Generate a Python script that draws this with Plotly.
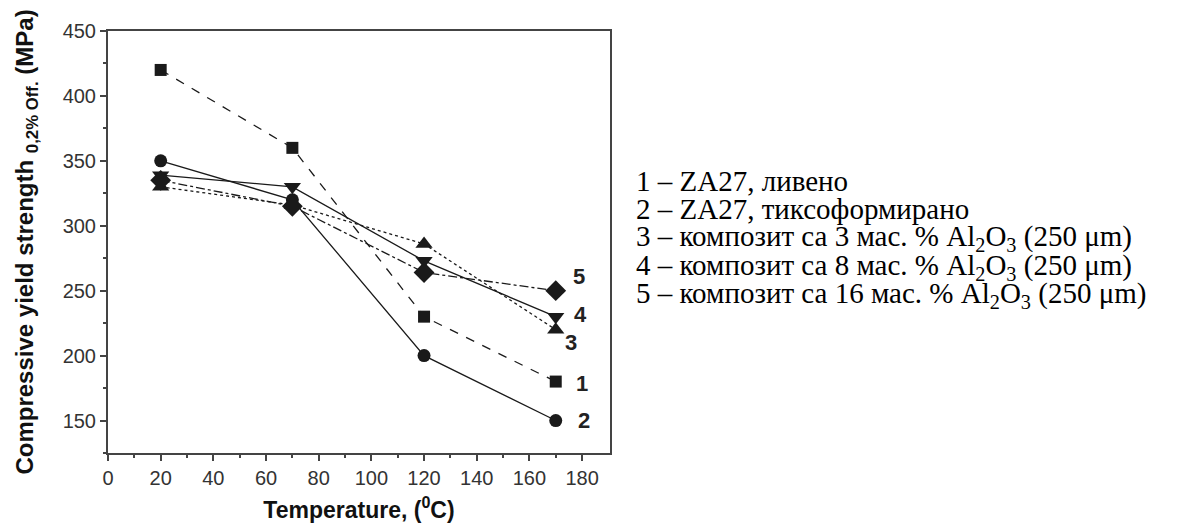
import plotly.graph_objects as go

temperature = [20, 70, 120, 170]
s1_cast = [420, 360, 230, 180]
s2_thixo = [350, 320, 200, 150]
s3_c3 = [330, 316, 286, 220]
s4_c8 = [339, 330, 273, 230]
s5_c16 = [335, 315, 264, 250]

series = [
    ("1", s1_cast, "square", "dash", 12),
    ("2", s2_thixo, "circle", "solid", 13),
    ("3", s3_c3, "triangle-up", "dot", 15),
    ("4", s4_c8, "triangle-down", "solid", 15),
    ("5", s5_c16, "diamond", "dashdot", 16),
]
# label offsets (pixels) relative to last point
label_shift = {"1": (26, -2), "2": (28, 0), "3": (15, -13), "4": (25, 2), "5": (23, 14)}

legend_lines = [
    "1 – ZA27, ливено",
    "2 – ZA27, тиксоформирано",
    "3 – композит са 3 мас. % Al<sub>2</sub>O<sub>3</sub> (250 μm)",
    "4 – композит са 8 мас. % Al<sub>2</sub>O<sub>3</sub> (250 μm)",
    "5 – композит са 16 мас. % Al<sub>2</sub>O<sub>3</sub> (250 μm)",
]

fig = go.Figure()
ink = "#1a1a1a"
for name, vals, sym, dash, msize in series:
    fig.add_trace(go.Scatter(
        x=temperature, y=vals, mode="lines+markers", name=name,
        line=dict(color=ink, width=1.3, dash=dash),
        marker=dict(symbol=sym, size=msize, color=ink),
        showlegend=False,
    ))
    dx, dy = label_shift[name]
    fig.add_annotation(x=temperature[-1], y=vals[-1], text="<b>" + name + "</b>",
                       showarrow=False, xshift=dx, yshift=dy,
                       font=dict(family="Liberation Sans, Arial", size=22, color="#222"))

for i, line in enumerate(legend_lines):
    fig.add_annotation(xref="paper", yref="paper", x=1.047, y=(445 - 173 - i * 28.5) / 422,
                       xanchor="left", yanchor="middle", text=line, showarrow=False,
                       font=dict(family="Liberation Serif, Times New Roman", size=29, color="#000"))

axis_common = dict(
    showline=True, linecolor="#444", linewidth=2, mirror=True,
    ticks="outside", ticklen=6, tickwidth=1.5, tickcolor="#444",
    showgrid=False, zeroline=False,
    tickfont=dict(family="Liberation Sans, Arial", size=20, color="#333"),
)

fig.update_xaxes(
    range=[0, 190.6], tickmode="array", tickvals=list(range(0, 181, 20)),
    minor=dict(tickvals=list(range(10, 181, 20)), ticks="outside", ticklen=3, tickcolor="#444", tickwidth=1.5),
    title=dict(text="<b>Temperature, (<sup>0</sup>C)</b>", standoff=14,
               font=dict(family="Liberation Sans, Arial", size=23, color="#111")),
    **axis_common,
)
fig.update_yaxes(
    range=[125, 450], tickmode="array", tickvals=list(range(150, 451, 50)),
    minor=dict(tickvals=list(range(125, 451, 50)), ticks="outside", ticklen=3, tickcolor="#444", tickwidth=1.5),
    title=dict(text="<b>Compressive yield strength <sub>0,2% Off.</sub> (MPa)</b>", standoff=22,
               font=dict(family="Liberation Sans, Arial", size=24, color="#111")),
    **axis_common,
)

fig.update_layout(
    width=1196, height=525,
    margin=dict(l=100, r=594, t=23, b=80),
    plot_bgcolor="white", paper_bgcolor="white",
)

fig.write_html("out.html")
